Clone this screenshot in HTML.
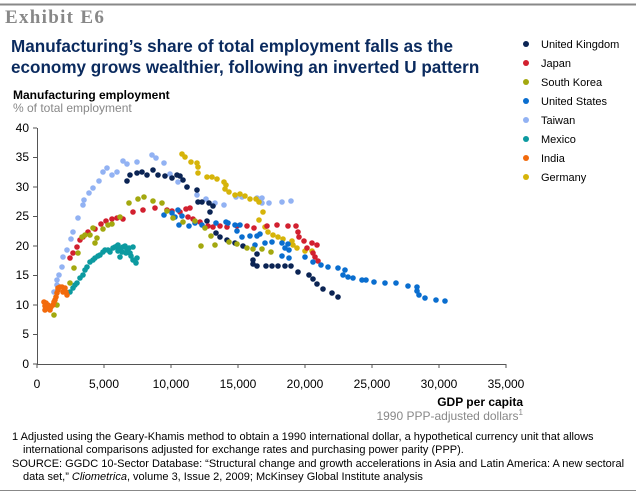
<!DOCTYPE html>
<html><head><meta charset="utf-8"><style>
body{margin:0;background:#fff;width:636px;height:496px;overflow:hidden;font-family:"Liberation Sans",Arial,sans-serif}
</style></head><body>
<svg id="s" width="636" height="496" xmlns="http://www.w3.org/2000/svg" font-family="Liberation Sans, Arial, sans-serif">
<line x1="0" y1="4.5" x2="636" y2="4.5" stroke="#888" stroke-width="2"/>
<text x="5" y="23" font-family="Liberation Serif, serif" font-weight="bold" font-size="19" letter-spacing="1.3" fill="#888">Exhibit E6</text>
<text x="11" y="52" font-weight="bold" font-size="17.1" fill="#0a2a5e">Manufacturing’s share of total employment falls as the</text>
<text x="11" y="73" font-weight="bold" font-size="17.1" fill="#0a2a5e">economy grows wealthier, following an inverted U pattern</text>
<text x="13" y="99" font-weight="bold" font-size="12" fill="#000">Manufacturing employment</text>
<text x="13" y="112" font-size="12" fill="#888">% of total employment</text>
<g font-size="11" fill="#000">
<circle cx="526" cy="44" r="3" fill="#0b2454"/><text x="541" y="48">United Kingdom</text>
<circle cx="526" cy="63" r="3" fill="#d2202f"/><text x="541" y="67">Japan</text>
<circle cx="526" cy="82" r="3" fill="#a3a80f"/><text x="541" y="86">South Korea</text>
<circle cx="526" cy="101" r="3" fill="#0a6ecf"/><text x="541" y="105">United States</text>
<circle cx="526" cy="120" r="3" fill="#92b2f3"/><text x="541" y="124">Taiwan</text>
<circle cx="526" cy="139" r="3" fill="#0c9aa0"/><text x="541" y="143">Mexico</text>
<circle cx="526" cy="158" r="3" fill="#f26a0c"/><text x="541" y="162">India</text>
<circle cx="526" cy="177" r="3" fill="#d6b40a"/><text x="541" y="181">Germany</text>
</g>
<g stroke="#555" stroke-width="1">
<line x1="37.5" y1="128" x2="37.5" y2="364"/>
<line x1="37" y1="364.5" x2="506" y2="364.5"/>
</g>
<g id="ticks" stroke="#555"></g>
<g font-size="12" fill="#000" text-anchor="end">
<text x="29" y="132">40</text><text x="29" y="161">35</text><text x="29" y="191">30</text><text x="29" y="220">25</text><text x="29" y="250">20</text><text x="29" y="279">15</text><text x="29" y="309">10</text><text x="29" y="338">5</text><text x="29" y="368">0</text>
</g>
<g font-size="12" fill="#000" text-anchor="middle">
<text x="37" y="388">0</text><text x="104" y="388">5,000</text><text x="171" y="388">10,000</text><text x="238" y="388">15,000</text><text x="305" y="388">20,000</text><text x="372" y="388">25,000</text><text x="439" y="388">30,000</text><text x="506" y="388">35,000</text>
</g>
<text x="523" y="406" text-anchor="end" font-weight="bold" font-size="12">GDP per capita</text>
<text x="523" y="420" text-anchor="end" font-size="12" fill="#888">1990 PPP-adjusted dollars<tspan font-size="8" dy="-5">1</tspan></text>
<g font-size="11" fill="#000">
<text x="12" y="440">1  Adjusted using the Geary-Khamis method to obtain a 1990 international dollar, a hypothetical currency unit that allows</text>
<text x="23" y="453">international comparisons adjusted for exchange rates and purchasing power parity (PPP).</text>
<text x="12" y="467">SOURCE: GGDC 10-Sector Database: “Structural change and growth accelerations in Asia and Latin America: A new sectoral</text>
<text x="23" y="480">data set,” <tspan font-style="italic">Cliometrica</tspan>, volume 3, Issue 2, 2009; McKinsey Global Institute analysis</text>
</g>
<line x1="0" y1="490.5" x2="636" y2="490.5" stroke="#888" stroke-width="1"/>
<g id="pts"></g>
</svg>
<script>
var ns="http://www.w3.org/2000/svg";
var t=document.getElementById("ticks");
function ln(a,b,c,d){var l=document.createElementNS(ns,"line");l.setAttribute("x1",a);l.setAttribute("y1",b);l.setAttribute("x2",c);l.setAttribute("y2",d);t.appendChild(l);}
for(var i=0;i<=8;i++){var y=128+i*29.5;ln(33,y,37,y);}
for(var i=0;i<=7;i++){var x=37+i*67;ln(x,364,x,368);}
var S={
"#92b2f3":[[54,292],[57,285],[57,280],[59,275],[62,267],[63,257],[67,250],[71,239],[73,232],[78,218],[83,205],[84,200],[89,193],[93,188],[99,181],[103,172],[107,168],[112,175],[117,172],[123,161],[127,164],[137,162],[152,155],[156,158],[164,163],[170,174],[178,182],[187,187],[197,195],[206,199],[215,203],[224,205],[236,197],[242,197],[257,198],[262,198],[262,203],[269,203],[282,202],[291,201]],
"#0b2454":[[127,181],[130,175],[137,173],[142,172],[147,175],[153,170],[158,175],[165,176],[172,178],[177,175],[180,176],[183,180],[187,187],[197,190],[198,202],[202,202],[209,203],[213,206],[210,212],[207,221],[216,233],[220,237],[227,240],[235,243],[243,246],[257,254],[253,260],[253,264],[257,266],[266,266],[272,266],[278,266],[285,266],[291,266],[298,272],[309,275],[313,279],[317,284],[323,289],[332,293],[338,297]],
"#d6b40a":[[182,154],[185,157],[191,162],[197,163],[198,167],[198,173],[207,177],[212,177],[217,179],[224,182],[226,185],[225,189],[229,192],[235,195],[240,194],[245,196],[250,199],[256,199],[259,202],[263,212],[259,220],[265,227],[268,232],[273,235],[278,237],[283,239],[292,241],[293,245],[297,248],[305,251],[312,251]],
"#d2202f":[[70,258],[73,253],[77,247],[80,240],[83,237],[88,232],[95,229],[101,224],[106,221],[112,219],[117,218],[123,219],[133,212],[143,210],[155,208],[167,210],[172,211],[180,212],[186,209],[190,208],[188,217],[193,219],[200,222],[208,226],[213,227],[220,226],[227,227],[237,226],[247,226],[254,228],[267,226],[277,225],[288,226],[296,226],[298,232],[299,237],[304,241],[312,243],[317,245],[307,248],[313,253],[315,257],[318,261]],
"#0a6ecf":[[164,215],[172,213],[175,217],[178,210],[182,216],[179,225],[189,226],[195,223],[202,225],[216,223],[226,222],[228,223],[235,225],[240,225],[237,231],[242,237],[250,236],[257,236],[260,234],[255,245],[265,243],[272,242],[282,243],[288,244],[285,248],[289,250],[282,256],[289,258],[305,257],[313,262],[321,265],[328,267],[338,268],[345,270],[343,275],[348,277],[353,278],[362,280],[366,280],[374,282],[385,283],[396,283],[408,286],[417,287],[417,291],[419,295],[425,298],[436,300],[445,301]],
"#a3a80f":[[54,315],[57,305],[70,283],[74,268],[78,253],[82,237],[85,235],[90,235],[93,228],[97,238],[95,243],[103,229],[108,225],[112,224],[120,217],[129,203],[138,199],[144,197],[153,201],[162,203],[167,211],[173,218],[183,222],[195,221],[205,228],[211,236],[201,246],[215,245],[229,242],[237,244],[247,248],[253,249],[262,249],[271,252]],
"#0c9aa0":[[70,292],[73,288],[75,285],[77,283],[80,278],[83,275],[85,270],[87,267],[90,262],[93,260],[95,258],[98,256],[100,255],[103,252],[105,250],[108,250],[110,252],[113,248],[115,247],[117,246],[118,245],[120,249],[123,247],[125,246],[127,250],[129,248],[120,257],[126,253],[130,253],[133,247],[131,256],[133,260],[136,263],[137,258],[122,252],[118,251]],
"#f26a0c":[[44,302],[45,306],[46,303],[47,308],[48,305],[50,310],[51,307],[53,305],[54,302],[55,300],[56,297],[57,293],[58,290],[58,288],[60,287],[62,287],[63,292],[65,288],[66,292],[67,295],[45,310],[49,308]]
};
var g=document.getElementById("pts");
for(var c in S){S[c].forEach(function(p){var e=document.createElementNS(ns,"circle");e.setAttribute("cx",p[0]);e.setAttribute("cy",p[1]);e.setAttribute("r",2.8);e.setAttribute("fill",c);g.appendChild(e);});}
</script>
</body></html>
